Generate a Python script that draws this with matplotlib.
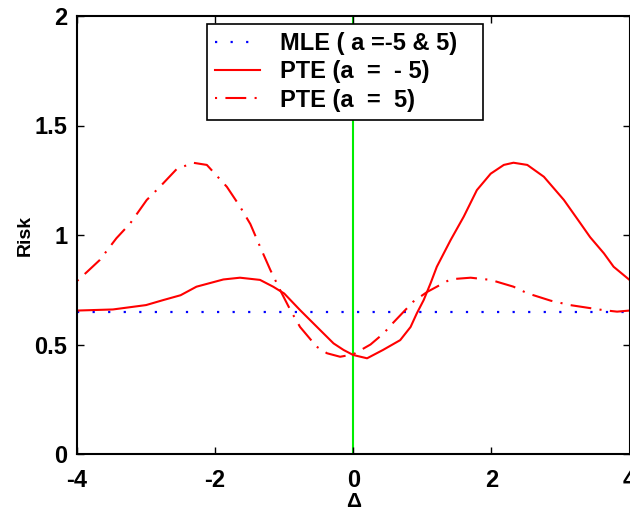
import matplotlib
matplotlib.use('Agg')
import matplotlib.pyplot as plt

plt.rcParams['font.family'] = ['Liberation Sans', 'DejaVu Sans']
plt.rcParams['font.weight'] = 'bold'

# ============================================
# DATA
# ============================================
mle_x = [-4, 4]
mle_risk = [0.648, 0.648]

pte_neg_x = [-4, -3.48, -3.0, -2.75, -2.5, -2.27, -1.88, -1.64, -1.35, -1.16,
             -1.0, -0.77, -0.48, -0.285, -0.14, 0, 0.2, 0.43, 0.68, 0.83,
             0.92, 1.02, 1.12, 1.21, 1.41, 1.6, 1.79, 1.99, 2.18, 2.32, 2.52,
             2.76, 3.05, 3.29, 3.43, 3.63, 3.77, 4.0]
pte_neg_risk = [0.655, 0.66, 0.68, 0.703, 0.725, 0.764, 0.797, 0.805, 0.795,
                0.764, 0.733, 0.657, 0.566, 0.505, 0.475, 0.452, 0.437, 0.475,
                0.52, 0.58, 0.642, 0.703, 0.78, 0.855, 0.977, 1.084, 1.205,
                1.28, 1.32, 1.33, 1.32, 1.266, 1.16, 1.053, 0.99, 0.916, 0.855,
                0.795]

pte_pos_x = [-4, -3.86, -3.67, -3.43, -3.23, -2.99, -2.8, -2.56, -2.32, -2.12,
             -1.83, -1.64, -1.49, -1.35, -1.2, -1.06, -0.91, -0.77, -0.53,
             -0.38, -0.19, 0, 0.25, 0.44, 0.58, 0.87, 1.07, 1.41, 1.7, 1.99,
             2.32, 2.52, 2.86, 3.14, 3.62, 3.82, 4]
pte_pos_risk = [0.79, 0.83, 0.886, 0.985, 1.053, 1.16, 1.22, 1.30, 1.33, 1.32,
                1.22, 1.13, 1.05, 0.947, 0.84, 0.749, 0.657, 0.58, 0.49, 0.46,
                0.444, 0.455, 0.50, 0.551, 0.60, 0.696, 0.74, 0.798, 0.805,
                0.795, 0.764, 0.734, 0.70, 0.68, 0.657, 0.65, 0.655]

x_ticks = [-4, -2, 0, 2, 4]
y_ticks = [0, 0.5, 1, 1.5, 2]
y_tick_labels = ['0', '0.5', '1', '1.5', '2']

# ============================================
# PLOT
# ============================================
fig = plt.figure(figsize=(6.3, 5.12), dpi=100)
ax = fig.add_axes([77 / 630, 58 / 512, 552.5 / 630, 438 / 512])

ax.axvline(0, color='#00ee00', lw=1.5, zorder=1)
ax.plot(mle_x, mle_risk, color='blue', lw=1.6, linestyle=(0, (1, 6)),
        label='MLE ( a =-5 & 5)')
ax.plot(pte_neg_x, pte_neg_risk, color='red', lw=1.5, linestyle='-',
        label='PTE (a  =  - 5)')
ax.plot(pte_pos_x, pte_pos_risk, color='red', lw=1.5,
        linestyle=(0, (1, 4, 10, 4)), label='PTE (a  =  5)')

ax.set_xlim(-4, 4)
ax.set_ylim(0, 2)
ax.set_xticks(x_ticks)
ax.set_xticklabels([str(t) for t in x_ticks])
ax.set_yticks(y_ticks)
ax.set_yticklabels(y_tick_labels)
ax.tick_params(direction='in', length=5, width=1, top=True, right=True,
               labelsize=17)
ax.tick_params(axis='x', pad=11)
ax.tick_params(axis='y', pad=7)
for s in ax.spines.values():
    s.set_linewidth(1.5)

ax.set_xlabel('Δ', fontsize=15, fontweight='bold', va='bottom')
ax.set_ylabel('Risk', fontsize=14, fontweight='bold')
ax.xaxis.set_label_coords(0.5, -0.13)
ax.yaxis.set_label_coords(-0.078, 0.5)

leg = ax.legend(loc='upper left', bbox_to_anchor=(0.235, 0.982, 0.5, 0),
                mode='expand', borderaxespad=0, fontsize=17, fancybox=False,
                framealpha=1, edgecolor='black', handlelength=1.9,
                handletextpad=0.85, labelspacing=0.22, borderpad=0.35)
leg.get_frame().set_linewidth(1.2)

plt.savefig('out.png', dpi=100)
